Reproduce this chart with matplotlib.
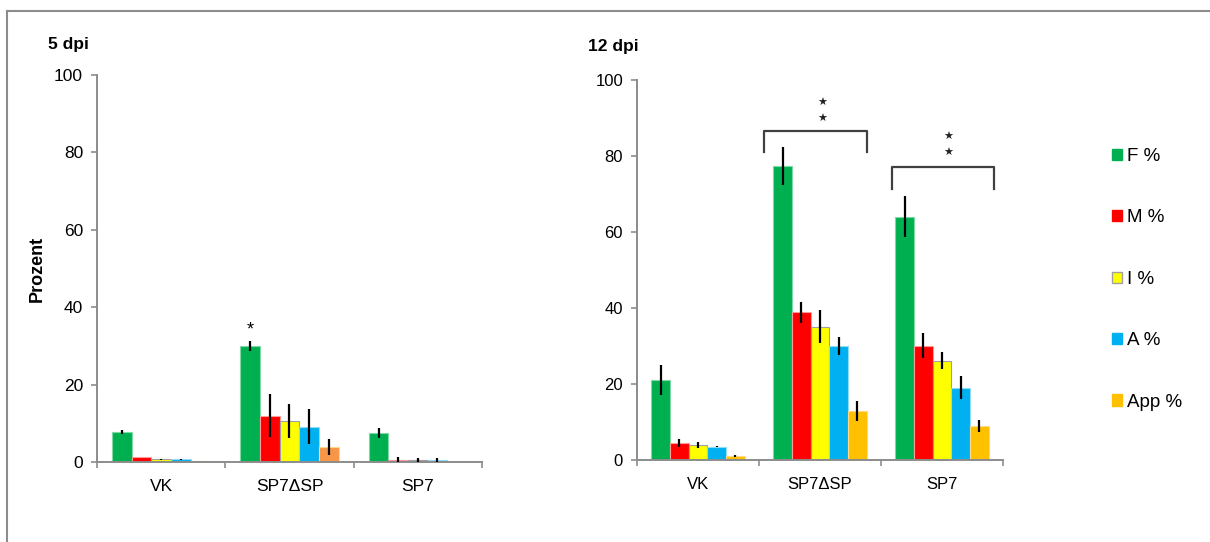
import numpy as np
import matplotlib
matplotlib.use('Agg')
from matplotlib import pyplot as plt
from matplotlib.patches import Patch
from matplotlib.lines import Line2D

plt.rcParams['font.family'] = ['Liberation Sans', 'DejaVu Sans']

groups = ['VK', 'SP7ΔSP', 'SP7']
series = ['F %', 'M %', 'I %', 'A %', 'App %']

# 5 dpi (left panel)
d5_F = [7.8, 30.0, 7.5]
d5_M = [1.2, 12.0, 0.6]
d5_I = [0.7, 10.6, 0.4]
d5_A = [0.7, 9.1, 0.5]
d5_App = [0.2, 3.8, 0.0]
d5_F_err = [0.5, 1.2, 1.4]
d5_M_err = [0.0, 5.5, 0.6]
d5_I_err = [0.1, 4.5, 0.6]
d5_A_err = [0.2, 4.5, 0.5]
d5_App_err = [0.0, 2.1, 0.0]

# 12 dpi (right panel)
d12_F = [21.0, 77.3, 63.9]
d12_M = [4.5, 38.8, 30.0]
d12_I = [3.9, 35.0, 26.1]
d12_A = [3.5, 30.0, 19.0]
d12_App = [1.05, 12.9, 8.9]
d12_F_err = [4.0, 5.0, 5.4]
d12_M_err = [1.0, 2.8, 3.3]
d12_I_err = [0.7, 4.3, 2.3]
d12_A_err = [0.2, 2.3, 3.0]
d12_App_err = [0.3, 2.6, 1.6]

colors5 = ['#00B050', '#FF0000', '#FFFF00', '#00B0F0', '#F79646']
colors12 = ['#00B050', '#FF0000', '#FFFF00', '#00B0F0', '#FFC000']
edges = ['#7fd9a6', '#ff9a9a', '#a0a0a0', '#8fdcf8', '#ffd98a']

axis_col = '#8c8c8c'

fig = plt.figure(figsize=(12.1, 5.42), dpi=100)
ax1 = fig.add_axes([97/1210, 1-462/542, 385/1210, 387/542])
ax2 = fig.add_axes([637/1210, 1-460/542, 366/1210, 380.5/542])

x = np.arange(len(groups))
w = 0.153


def draw_panel(ax, vals, errs, cols, fs):
    for i in range(5):
        pos = x - 2*w + i*w
        ax.bar(pos, vals[i], width=w, color=cols[i], edgecolor=edges[i],
               linewidth=0.8, zorder=2)
        ax.errorbar(pos, vals[i], yerr=errs[i], fmt='none', ecolor='black',
                    elinewidth=1.6, capsize=0, zorder=3)
    ax.set_xlim(-0.5, 2.5)
    ax.set_ylim(0, 100)
    ax.set_yticks([0, 20, 40, 60, 80, 100])
    ax.set_xticks([-0.5, 0.5, 1.5, 2.5])
    ax.set_xticklabels([])
    ax.set_xticks(x, minor=True)
    ax.set_xticklabels(groups, minor=True, fontsize=fs)
    ax.tick_params(axis='x', which='minor', length=0, pad=12)
    ax.tick_params(axis='both', which='major', direction='out', length=4,
                   width=1.2, color=axis_col, labelsize=fs, pad=6)
    for s in ['top', 'right']:
        ax.spines[s].set_visible(False)
    for s in ['left', 'bottom']:
        ax.spines[s].set_color(axis_col)
        ax.spines[s].set_linewidth(1.4)


draw_panel(ax1, [d5_F, d5_M, d5_I, d5_A, d5_App],
           [d5_F_err, d5_M_err, d5_I_err, d5_A_err, d5_App_err], colors5, 12.5)
draw_panel(ax2, [d12_F, d12_M, d12_I, d12_A, d12_App],
           [d12_F_err, d12_M_err, d12_I_err, d12_A_err, d12_App_err], colors12, 12)

ax1.set_ylabel('Prozent', fontsize=13, fontweight='bold', labelpad=6)

# significance marks
ax1.text(1 - 2*w, 34, '*', ha='center', va='center', fontsize=13)


def bracket(ax, x0, x1, ylo, yhi, xs, ys):
    ax.plot([x0, x0, x1, x1], [ylo, yhi, yhi, ylo], color='#404040', lw=1.6,
            solid_joinstyle='round', clip_on=False, zorder=4)
    for yy in ys:
        ax.text(xs, yy, '★', ha='center', va='center', fontsize=8,
                family=['DejaVu Sans'], color='#222222')


bracket(ax2, 0.54, 1.385, 81.0, 86.5, 1.016, [93.8, 89.6])
bracket(ax2, 1.59, 2.426, 71.1, 76.9, 2.049, [84.9, 80.7])

fig.text(48/1210, 1-45/542, '5 dpi', fontsize=12.5, fontweight='bold', va='center')
fig.text(588/1210, 1-46/542, '12 dpi', fontsize=12.5, fontweight='bold', va='center')

handles = [Patch(facecolor=colors12[i], edgecolor=edges[i] if i == 2 else colors12[i],
                 linewidth=1.0) for i in range(5)]
fig.legend(handles, series, loc='upper left', bbox_to_anchor=(1112/1210, 1-148/542),
           frameon=False, fontsize=13.5, handlelength=0.55, handleheight=0.55,
           handletextpad=0.25, labelspacing=2.37, borderpad=0, borderaxespad=0)

# outer frame lines
fig.add_artist(Line2D([7/1210, 1], [1-11/542, 1-11/542], transform=fig.transFigure,
                      color='#8c8c8c', lw=1.5))
fig.add_artist(Line2D([7/1210, 7/1210], [0, 1-11/542], transform=fig.transFigure,
                      color='#8c8c8c', lw=1.5))

fig.savefig('out.png', dpi=100)
